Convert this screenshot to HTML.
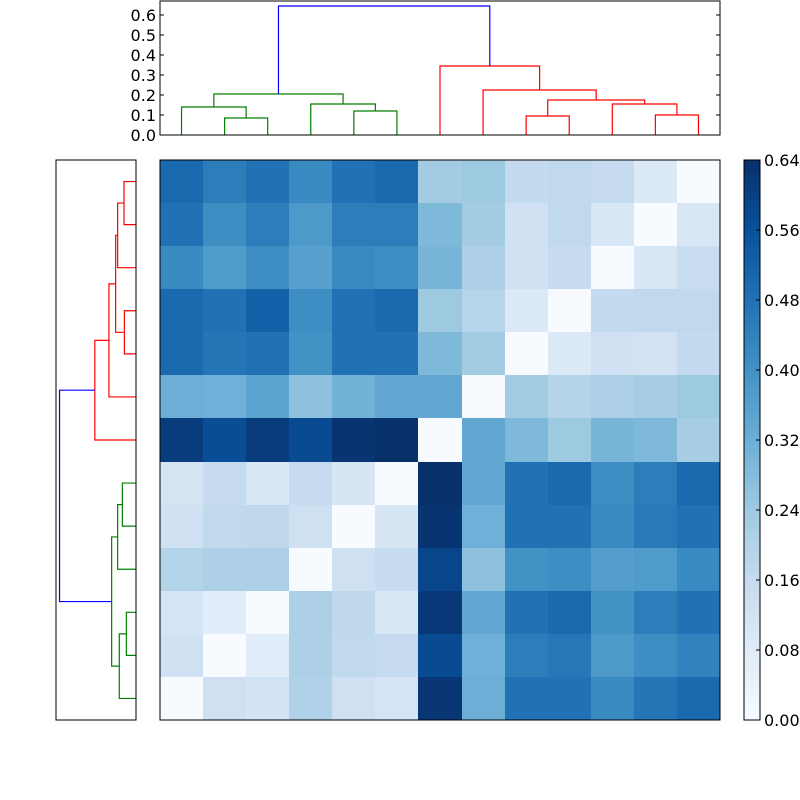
<!DOCTYPE html>
<html><head><meta charset="utf-8"><style>
html,body{margin:0;padding:0;background:#fff;}
svg{display:block;font-family:"DejaVu Sans","Liberation Sans",sans-serif;}
</style></head><body>
<svg id="chart" width="800" height="800" viewBox="0 0 800 800"></svg>
<script>
// ---- data ----
const heatValues = [
 [0.50,0.45,0.48,0.42,0.48,0.50,0.23,0.24,0.165,0.17,0.16,0.09,0],
 [0.48,0.41,0.45,0.38,0.45,0.45,0.29,0.23,0.13,0.17,0.10,0,0.10],
 [0.42,0.375,0.41,0.36,0.42,0.41,0.30,0.21,0.13,0.16,0,0.10,0.15],
 [0.50,0.48,0.52,0.41,0.48,0.50,0.24,0.19,0.09,0,0.165,0.17,0.17],
 [0.50,0.47,0.48,0.40,0.48,0.48,0.29,0.23,0,0.09,0.13,0.12,0.165],
 [0.32,0.315,0.35,0.265,0.31,0.34,0.34,0,0.23,0.195,0.21,0.225,0.24],
 [0.61,0.57,0.61,0.575,0.63,0.64,0,0.34,0.29,0.24,0.30,0.29,0.225],
 [0.11,0.16,0.10,0.16,0.11,0,0.64,0.34,0.48,0.50,0.41,0.45,0.50],
 [0.13,0.17,0.175,0.135,0,0.11,0.63,0.315,0.48,0.48,0.42,0.46,0.48],
 [0.20,0.21,0.21,0,0.135,0.16,0.59,0.265,0.40,0.41,0.365,0.375,0.42],
 [0.115,0.07,0,0.21,0.175,0.10,0.62,0.34,0.48,0.50,0.40,0.45,0.48],
 [0.13,0,0.075,0.21,0.17,0.16,0.575,0.315,0.45,0.465,0.38,0.41,0.44],
 [0,0.135,0.12,0.205,0.135,0.115,0.625,0.32,0.48,0.48,0.42,0.47,0.50]
];
const colorTicks = [0.00,0.08,0.16,0.24,0.32,0.40,0.48,0.56,0.64];
const dendroTicks = [0.0,0.1,0.2,0.3,0.4,0.5,0.6];
// column dendrogram links: [leftNode, rightNode, height, color]; nodes: leaf index or "cN" for link N
const colLinks = [
 [1,2,0.085,'green'],
 [0,'c0',0.14,'green'],
 [4,5,0.12,'green'],
 [3,'c2',0.155,'green'],
 ['c1','c3',0.205,'green'],
 [8,9,0.095,'red'],
 [11,12,0.10,'red'],
 [10,'c6',0.155,'red'],
 ['c5','c7',0.175,'red'],
 [7,'c8',0.225,'red'],
 [6,'c9',0.345,'red'],
 ['c4','c10',0.645,'blue']
];
const rowLinks = [
 [0,1,0.102,'red'],
 ['c0',2,0.156,'red'],
 [3,4,0.099,'red'],
 ['c1','c2',0.173,'red'],
 ['c3',5,0.23,'red'],
 ['c4',6,0.35,'red'],
 [7,8,0.116,'green'],
 ['c6',9,0.156,'green'],
 [10,11,0.082,'green'],
 ['c8',12,0.142,'green'],
 ['c7','c9',0.207,'green'],
 ['c5','c10',0.65,'blue']
];
const vmin = 0, vmax = 0.64;
// ---- layout ----
const svg = document.getElementById('chart');
const NS = 'http://www.w3.org/2000/svg';
const HX0=160,HX1=720,HY0=160,HY1=720;
const n = heatValues.length;
const cw = (HX1-HX0)/n, ch=(HY1-HY0)/n;
function el(tag, attrs, parent){const e=document.createElementNS(NS,tag);for(const k in attrs)e.setAttribute(k,attrs[k]);(parent||svg).appendChild(e);return e;}
const stops=[[247,251,255],[222,235,247],[198,219,239],[158,202,225],[107,174,214],[66,146,198],[33,113,181],[8,81,156],[8,48,107]];
function blues(v){let f=(v-vmin)/(vmax-vmin);f=Math.max(0,Math.min(1,f));const p=f*8;const i=Math.min(7,Math.floor(p));const t=p-i;const a=stops[i],b=stops[i+1];return 'rgb('+a.map((c,k)=>Math.round(c+(b[k]-c)*t)).join(',')+')';}
// heatmap
const gH = el('g',{});


heatValues.forEach((row,r)=>row.forEach((v,c)=>{
  const x0=Math.round(HX0+c*cw), x1=Math.round(HX0+(c+1)*cw), y0=Math.round(HY0+r*ch), y1=Math.round(HY0+(r+1)*ch);
  const rc=el('rect',{x:x0,y:y0,width:x1-x0,height:y1-y0,fill:blues(v)},gH);
  
  
}));
const hb=el('rect',{x:HX0,y:HY0,width:HX1-HX0,height:HY1-HY0,fill:'none',stroke:'#000','stroke-width':1});


// top dendrogram
const TX0=160,TX1=720,TY0=1,TY1=135, tMax=0.67;
const ty = h => TY1 - h/tMax*(TY1-TY0);
const leafX = i => HX0+(i+0.5)*cw;
const gT=el('g',{});


const colColors={green:'#008000',red:'#ff0000',blue:'#0000ff'};
function drawDendro(links, leafPos, hPos, horizontal, g){
  const pos={}, hts={};
  const P=nd=>typeof nd==='number'?leafPos(nd):pos[nd];
  const H=nd=>typeof nd==='number'?0:hts[nd];
  links.forEach((L,i)=>{
    const [a,b,h,c]=L; const pa=P(a),pb=P(b),ha=H(a),hb=H(b);
    let d;
    if(!horizontal) d=`M${pa},${hPos(ha)}L${pa},${hPos(h)}L${pb},${hPos(h)}L${pb},${hPos(hb)}`;
    else d=`M${hPos(ha)},${pa}L${hPos(h)},${pa}L${hPos(h)},${pb}L${hPos(hb)},${pb}`;
    const p=el('path',{d:d,fill:'none',stroke:colColors[c],'stroke-width':1.2},g);
    
    
    pos['c'+i]=(pa+pb)/2; hts['c'+i]=h;
  });
}
drawDendro(colLinks, leafX, ty, false, gT);
const tb=el('rect',{x:TX0,y:TY0,width:TX1-TX0,height:TY1-TY0,fill:'none',stroke:'#000','stroke-width':1});


dendroTicks.forEach(t=>{
  const y=ty(t);
  el('line',{x1:TX0,x2:TX0+4,y1:y,y2:y,stroke:'#000'});
  el('line',{x1:TX1-4,x2:TX1,y1:y,y2:y,stroke:'#000'});
  const tx=el('text',{x:TX0-4,y:y+6,'text-anchor':'end','font-size':16});
  tx.textContent=t.toFixed(1);
  
  
});
// left dendrogram
const LX0=56,LX1=136, lMax=0.68;
const lx = h => LX1 - h/lMax*(LX1-LX0);
const leafY = i => HY0+(i+0.5)*ch;
const gL=el('g',{});


drawDendro(rowLinks, leafY, lx, true, gL);
const lb=el('rect',{x:LX0,y:HY0,width:LX1-LX0,height:HY1-HY0,fill:'none',stroke:'#000','stroke-width':1});


// colorbar
const CX0=744,CX1=760;
const defs=el('defs',{});
const lg=el('linearGradient',{id:'cbg',x1:0,y1:1,x2:0,y2:0},defs);
stops.forEach((s,i)=>el('stop',{offset:(i/8),'stop-color':'rgb('+s.join(',')+')'},lg));
const cb=el('rect',{x:CX0,y:HY0,width:CX1-CX0,height:HY1-HY0,fill:'url(#cbg)',stroke:'#000','stroke-width':1});


const cy = v => HY1 - (v-vmin)/(vmax-vmin)*(HY1-HY0);
colorTicks.forEach(t=>{
  const y=cy(t);
  el('line',{x1:CX1-4,x2:CX1,y1:y,y2:y,stroke:'#000'});
  const tx=el('text',{x:CX1+4,y:y+6,'font-size':16});
  tx.textContent=t.toFixed(2);
  
  
});
</script>
</body></html>
